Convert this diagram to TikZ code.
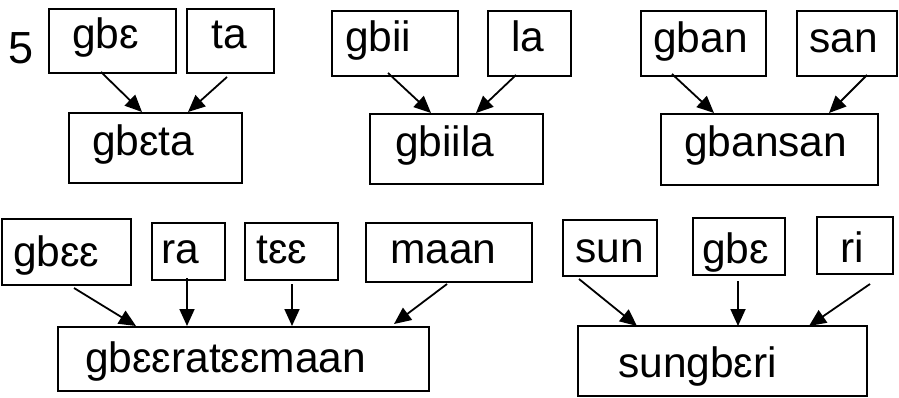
\documentclass[tikz,border=0pt]{standalone}
\usepackage{fontspec}
\setmainfont{Liberation Sans}
\usetikzlibrary{arrows.meta}
\newcommand{\mkbox}[5]{\node[wbox, minimum width={(#4-#2)*1pt}, minimum height={(#5-#3)*1pt}] (#1) at ({(#2+#4)/2},{-(#3+#5)/2}) {};}
\newcommand{\mktext}[4]{\node[wtext] (#1) at (#2,-#3) {#4};}
\tikzset{
  wbox/.style={draw=black, line width=2pt, rectangle, inner sep=0pt},
  wtext/.style={anchor=base west, inner sep=0pt, font=\fontsize{42.5}{50}\selectfont},
  warr/.style={draw=black, line width=1.8pt, -{Triangle[length=17pt,width=15pt]}}
}
\begin{document}
\begin{tikzpicture}[x=1pt,y=1pt]
\useasboundingbox (0,0) rectangle (899,-398);
\node[anchor=base west, inner sep=0pt, font=\fontsize{45}{52}\selectfont] (num) at (8,-64) {5};
% group A
\mkbox{A1}{49}{9}{176}{73}
\mkbox{A2}{187}{9}{274}{73}
\mkbox{A3}{69}{113}{242}{183}
\mktext{A1t}{72}{49}{gbɛ}
\mktext{A2t}{211}{49}{ta}
\mktext{A3t}{92}{156}{gbɛta}
% group B
\mkbox{B1}{332}{11}{458}{76}
\mkbox{B2}{488}{11}{571}{76}
\mkbox{B3}{370}{114}{543}{184}
\mktext{B1t}{345}{52}{gbii}
\mktext{B2t}{511}{52}{la}
\mktext{B3t}{395}{157}{gbiila}
% group C
\mkbox{C1}{641}{11}{766}{76}
\mkbox{C2}{797}{11}{897}{76}
\mkbox{C3}{661}{114}{878}{185}
\mktext{C1t}{653}{53}{gban}
\mktext{C2t}{809}{53}{san}
\mktext{C3t}{684}{157}{gbansan}
% group D
\mkbox{D1}{2}{219}{131}{285}
\mkbox{D2}{152}{223}{225}{280}
\mkbox{D3}{245}{223}{338}{280}
\mkbox{D4}{366}{223}{532}{282}
\mkbox{D5}{58}{327}{429}{391}
\mktext{D1t}{13}{266}{gbɛɛ}
\mktext{D2t}{161}{263}{ra}
\mktext{D3t}{256}{263}{tɛɛ}
\mktext{D4t}{390}{263}{maan}
\mktext{D5t}{85}{372}{gbɛɛratɛɛmaan}
% group E
\mkbox{E1}{563}{220}{657}{276}
\mkbox{E2}{693}{218}{785}{275}
\mkbox{E3}{817}{217}{893}{274}
\mkbox{E4}{578}{326}{867}{396}
\mktext{E1t}{575}{262}{sun}
\mktext{E2t}{702}{263}{gbɛ}
\mktext{E3t}{840}{262}{ri}
\mktext{E4t}{618}{377}{sungbɛri}
% arrows
\draw[warr] ([shift={(53,2)}]A1.south west) -- ([shift={(74,0)}]A3.north west);
\draw[warr] ([shift={(41,-3)}]A2.south west) -- ([shift={(120,0)}]A3.north west);
\draw[warr] ([shift={(57,4)}]B1.south west) -- ([shift={(62,0)}]B3.north west);
\draw[warr] ([shift={(29,2)}]B2.south west) -- ([shift={(107,0)}]B3.north west);
\draw[warr] ([shift={(32,3)}]C1.south west) -- ([shift={(54,0)}]C3.north west);
\draw[warr] ([shift={(71,2)}]C2.south west) -- ([shift={(169,0)}]C3.north west);
\draw[warr] ([shift={(73,-2)}]D1.south west) -- ([shift={(79,0)}]D5.north west);
\draw[warr] ([shift={(36,3)}]D2.south west) -- ([shift={(130,0)}]D5.north west);
\draw[warr] ([shift={(48,-3)}]D3.south west) -- ([shift={(235,0)}]D5.north west);
\draw[warr] ([shift={(82,-1)}]D4.south west) -- ([shift={(337,2)}]D5.north west);
\draw[warr] ([shift={(17,-2)}]E1.south west) -- ([shift={(60,-1)}]E4.north west);
\draw[warr] ([shift={(46,-5)}]E2.south west) -- ([shift={(161,-1)}]E4.north west);
\draw[warr] ([shift={(54,-9)}]E3.south west) -- ([shift={(232,-1)}]E4.north west);
\end{tikzpicture}
\end{document}
